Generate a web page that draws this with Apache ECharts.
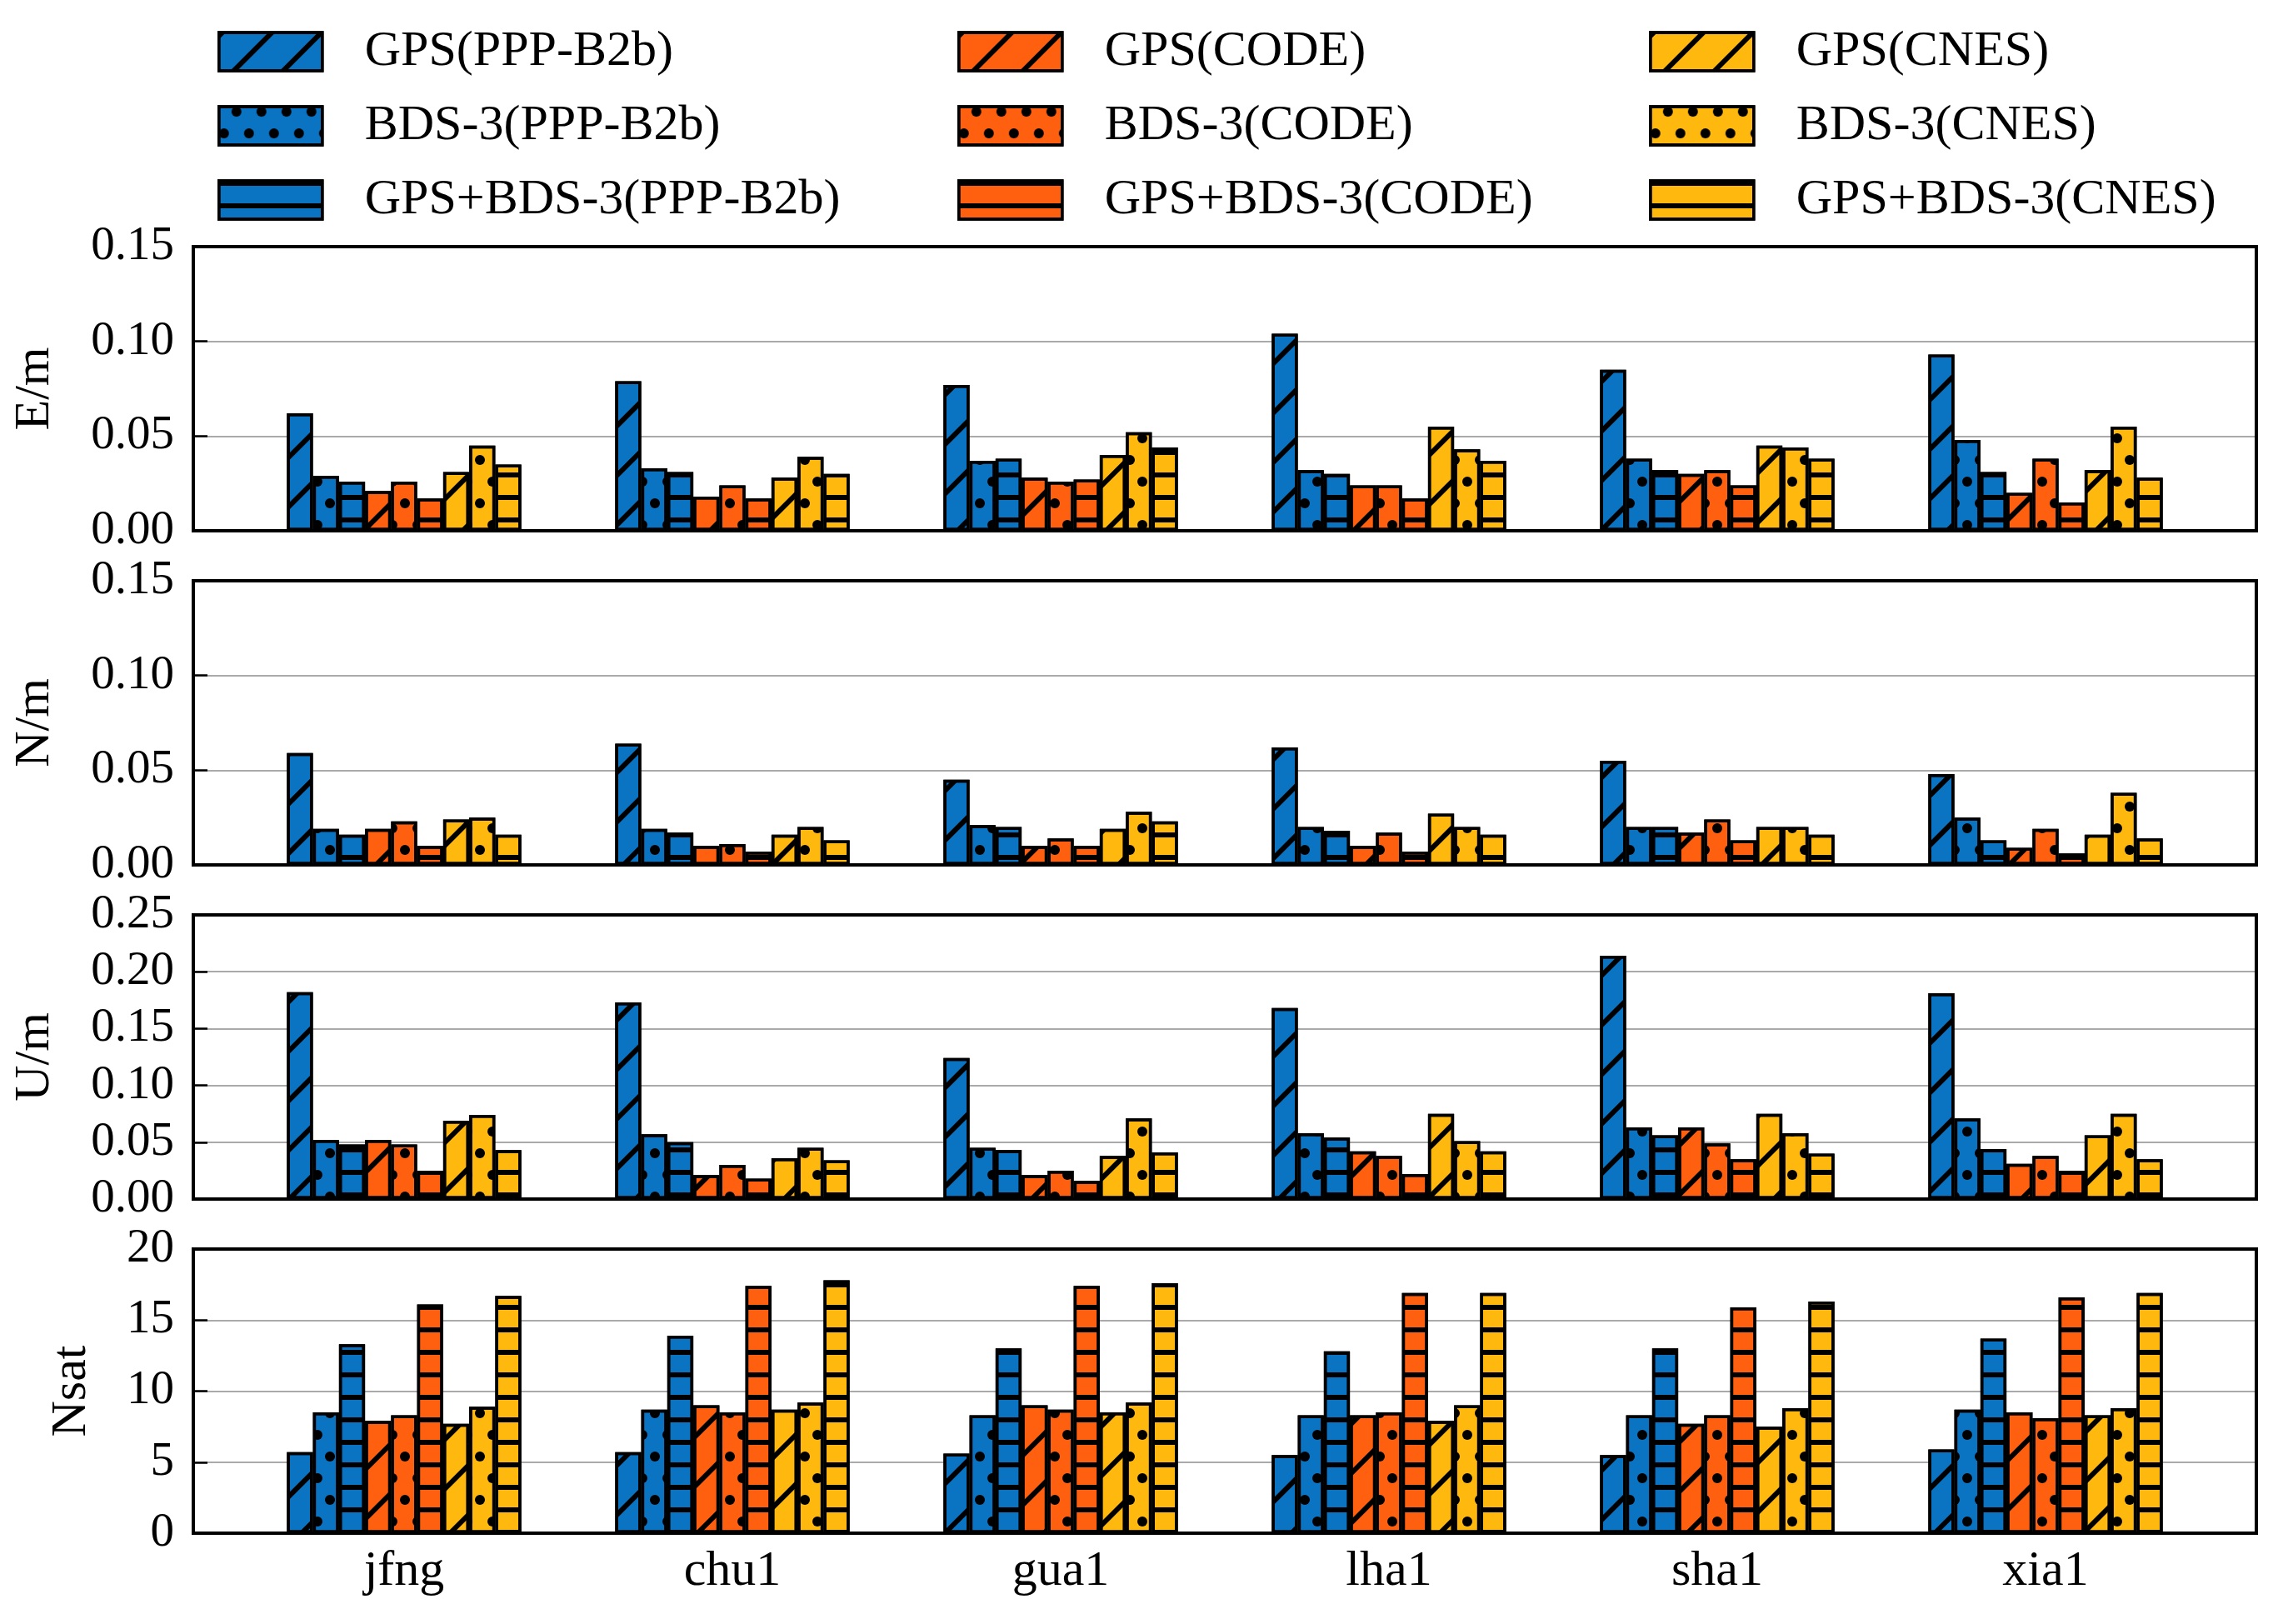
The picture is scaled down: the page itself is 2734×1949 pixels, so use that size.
<!DOCTYPE html>
<html>
<head>
<meta charset="utf-8">
<script src="https://cdn.jsdelivr.net/npm/echarts@6/dist/echarts.min.js"></script>
<style>html,body{margin:0;padding:0;background:#fff;}#c{width:2734px;height:1949px;}</style>
</head>
<body>
<div id="c"></div>
<script>
const stations = ['jfng', 'chu1', 'gua1', 'lha1', 'sha1', 'xia1'];
const seriesNames = ['GPS(PPP-B2b)', 'BDS-3(PPP-B2b)', 'GPS+BDS-3(PPP-B2b)',
  'GPS(CODE)', 'BDS-3(CODE)', 'GPS+BDS-3(CODE)',
  'GPS(CNES)', 'BDS-3(CNES)', 'GPS+BDS-3(CNES)'];
const panelNames = ['E/m', 'N/m', 'U/m', 'Nsat'];
const yTicksE = [0, 0.15, 0.05];
const yTicksN = [0, 0.15, 0.05];
const yTicksU = [0, 0.25, 0.05];
const yTicksNsat = [0, 20, 5];

// rows follow seriesNames, columns follow stations
const errE = [
  [0.062, 0.079, 0.077, 0.104, 0.085, 0.093],
  [0.029, 0.033, 0.037, 0.032, 0.038, 0.048],
  [0.026, 0.031, 0.038, 0.030, 0.032, 0.031],
  [0.021, 0.018, 0.028, 0.024, 0.030, 0.020],
  [0.026, 0.024, 0.026, 0.024, 0.032, 0.038],
  [0.017, 0.017, 0.027, 0.017, 0.024, 0.015],
  [0.031, 0.028, 0.040, 0.055, 0.045, 0.032],
  [0.045, 0.039, 0.052, 0.043, 0.044, 0.055],
  [0.035, 0.030, 0.044, 0.037, 0.038, 0.028]
];
const errN = [
  [0.059, 0.064, 0.045, 0.062, 0.055, 0.048],
  [0.019, 0.019, 0.021, 0.020, 0.020, 0.025],
  [0.016, 0.017, 0.020, 0.018, 0.020, 0.013],
  [0.019, 0.010, 0.010, 0.010, 0.017, 0.009],
  [0.023, 0.011, 0.014, 0.017, 0.024, 0.019],
  [0.010, 0.007, 0.010, 0.007, 0.013, 0.006],
  [0.024, 0.016, 0.019, 0.027, 0.020, 0.016],
  [0.025, 0.020, 0.028, 0.020, 0.020, 0.038],
  [0.016, 0.013, 0.023, 0.016, 0.016, 0.014]
];
const errU = [
  [0.182, 0.173, 0.124, 0.168, 0.214, 0.181],
  [0.052, 0.057, 0.045, 0.058, 0.063, 0.071],
  [0.048, 0.050, 0.043, 0.054, 0.056, 0.044],
  [0.052, 0.021, 0.021, 0.042, 0.063, 0.031],
  [0.048, 0.030, 0.025, 0.038, 0.049, 0.038],
  [0.025, 0.018, 0.016, 0.022, 0.035, 0.025],
  [0.069, 0.036, 0.038, 0.075, 0.075, 0.056],
  [0.074, 0.045, 0.071, 0.051, 0.058, 0.075],
  [0.043, 0.034, 0.041, 0.042, 0.040, 0.035]
];
const nsat = [
  [5.7, 5.7, 5.6, 5.5, 5.5, 5.9],
  [8.5, 8.7, 8.3, 8.3, 8.3, 8.7],
  [13.3, 13.9, 13.0, 12.8, 13.0, 13.7],
  [7.9, 9.0, 9.0, 8.3, 7.7, 8.5],
  [8.3, 8.5, 8.7, 8.5, 8.3, 8.1],
  [16.1, 17.4, 17.4, 16.9, 15.9, 16.6],
  [7.7, 8.7, 8.5, 7.9, 7.5, 8.3],
  [8.9, 9.2, 9.2, 9.0, 8.8, 8.8],
  [16.7, 17.8, 17.6, 16.9, 16.3, 16.9]
];

const panelData = [errE, errN, errU, nsat];
const panelTicks = [yTicksE, yTicksN, yTicksU, yTicksNsat];

const FONT = "'Liberation Serif', 'Times New Roman', 'DejaVu Serif', serif";
const colors = ['#0A73C2', '#FF6010', '#FFB80D'];
const decals = [
  { symbol: 'rect', color: '#000', dashArrayX: [1, 0], dashArrayY: [6, 36], rotation: -Math.PI / 4 },
  { symbol: 'circle', color: '#000', symbolSize: 1, dashArrayX: [[12, 18], [0, 15, 12, 3]], dashArrayY: [12, 14] },
  { symbol: 'rect', color: '#000', dashArrayX: [1, 0], dashArrayY: [6, 21] }
];

const panelTop = [296, 697, 1098, 1499];
const panelH = 341;
const nameGaps = [160, 160, 160, 116];

const grids = [], xAxes = [], yAxes = [], series = [];
for (let p = 0; p < 4; p++) {
  const [mn, mx, iv] = panelTicks[p];
  const dec = p === 3 ? 0 : 2;
  // frame grid
  grids.push({ left: 232, right: 26, top: panelTop[p], height: panelH, show: true,
    borderColor: '#000', borderWidth: 4, backgroundColor: 'transparent', z: 5 });
  // bars grid
  grids.push({ left: 288, right: 82, top: panelTop[p], height: panelH, show: false });
  xAxes.push({ gridIndex: 2 * p, type: 'category', data: stations, show: false });
  xAxes.push({ gridIndex: 2 * p + 1, type: 'category', data: stations,
    axisLine: { show: false }, axisTick: { show: false },
    axisLabel: { show: p === 3, fontFamily: FONT, fontSize: 60, color: '#000', margin: 16 } });
  yAxes.push({ gridIndex: 2 * p, type: 'value', min: mn, max: mx, interval: iv,
    name: panelNames[p], nameLocation: 'middle', nameRotate: 90, nameGap: nameGaps[p],
    nameTextStyle: { fontFamily: FONT, fontSize: 60, color: '#000' },
    axisLine: { show: true, lineStyle: { color: '#000', width: 4 } },
    axisTick: { show: true, inside: true, length: 17, lineStyle: { color: '#000', width: 2.5 } },
    axisLabel: { fontFamily: FONT, fontSize: 57, color: '#000', margin: 23,
      formatter: v => v.toFixed(dec) },
    splitLine: { show: true, showMinLine: false, showMaxLine: false,
      lineStyle: { color: '#aaaaaa', width: 2 } } });
  yAxes.push({ gridIndex: 2 * p + 1, type: 'value', min: mn, max: mx, interval: iv, show: false,
    splitLine: { show: false } });
  for (let s = 0; s < 9; s++) {
    series.push({
      type: 'bar', name: seriesNames[s], xAxisIndex: 2 * p + 1, yAxisIndex: 2 * p + 1,
      data: panelData[p][s], barGap: '0%', barCategoryGap: '28.6%',
      itemStyle: { color: colors[Math.floor(s / 3)], borderColor: '#000', borderWidth: 3.5,
        decal: decals[s % 3] },
      emphasis: { disabled: true }, animation: false
    });
  }
}

const legendLefts = [256, 1144, 1974];
const legends = legendLefts.map((lx, c) => ({
  orient: 'vertical', left: lx, top: 27, icon: 'rect',
  itemWidth: 124, itemHeight: 46, itemGap: 29,
  data: [seriesNames[c * 3], seriesNames[c * 3 + 1], seriesNames[c * 3 + 2]],
  itemStyle: { borderColor: '#000', borderWidth: 3.5, decal: 'inherit' },
  textStyle: { fontFamily: FONT, fontSize: 60, color: '#000', lineHeight: 60, padding: [0, 0, 0, 46] }
}));

const chart = echarts.init(document.getElementById('c'), null, { renderer: 'canvas' });
chart.setOption({
  backgroundColor: '#fff',
  animation: false,
  legend: legends,
  grid: grids,
  xAxis: xAxes,
  yAxis: yAxes,
  series: series
});
</script>
</body>
</html>
